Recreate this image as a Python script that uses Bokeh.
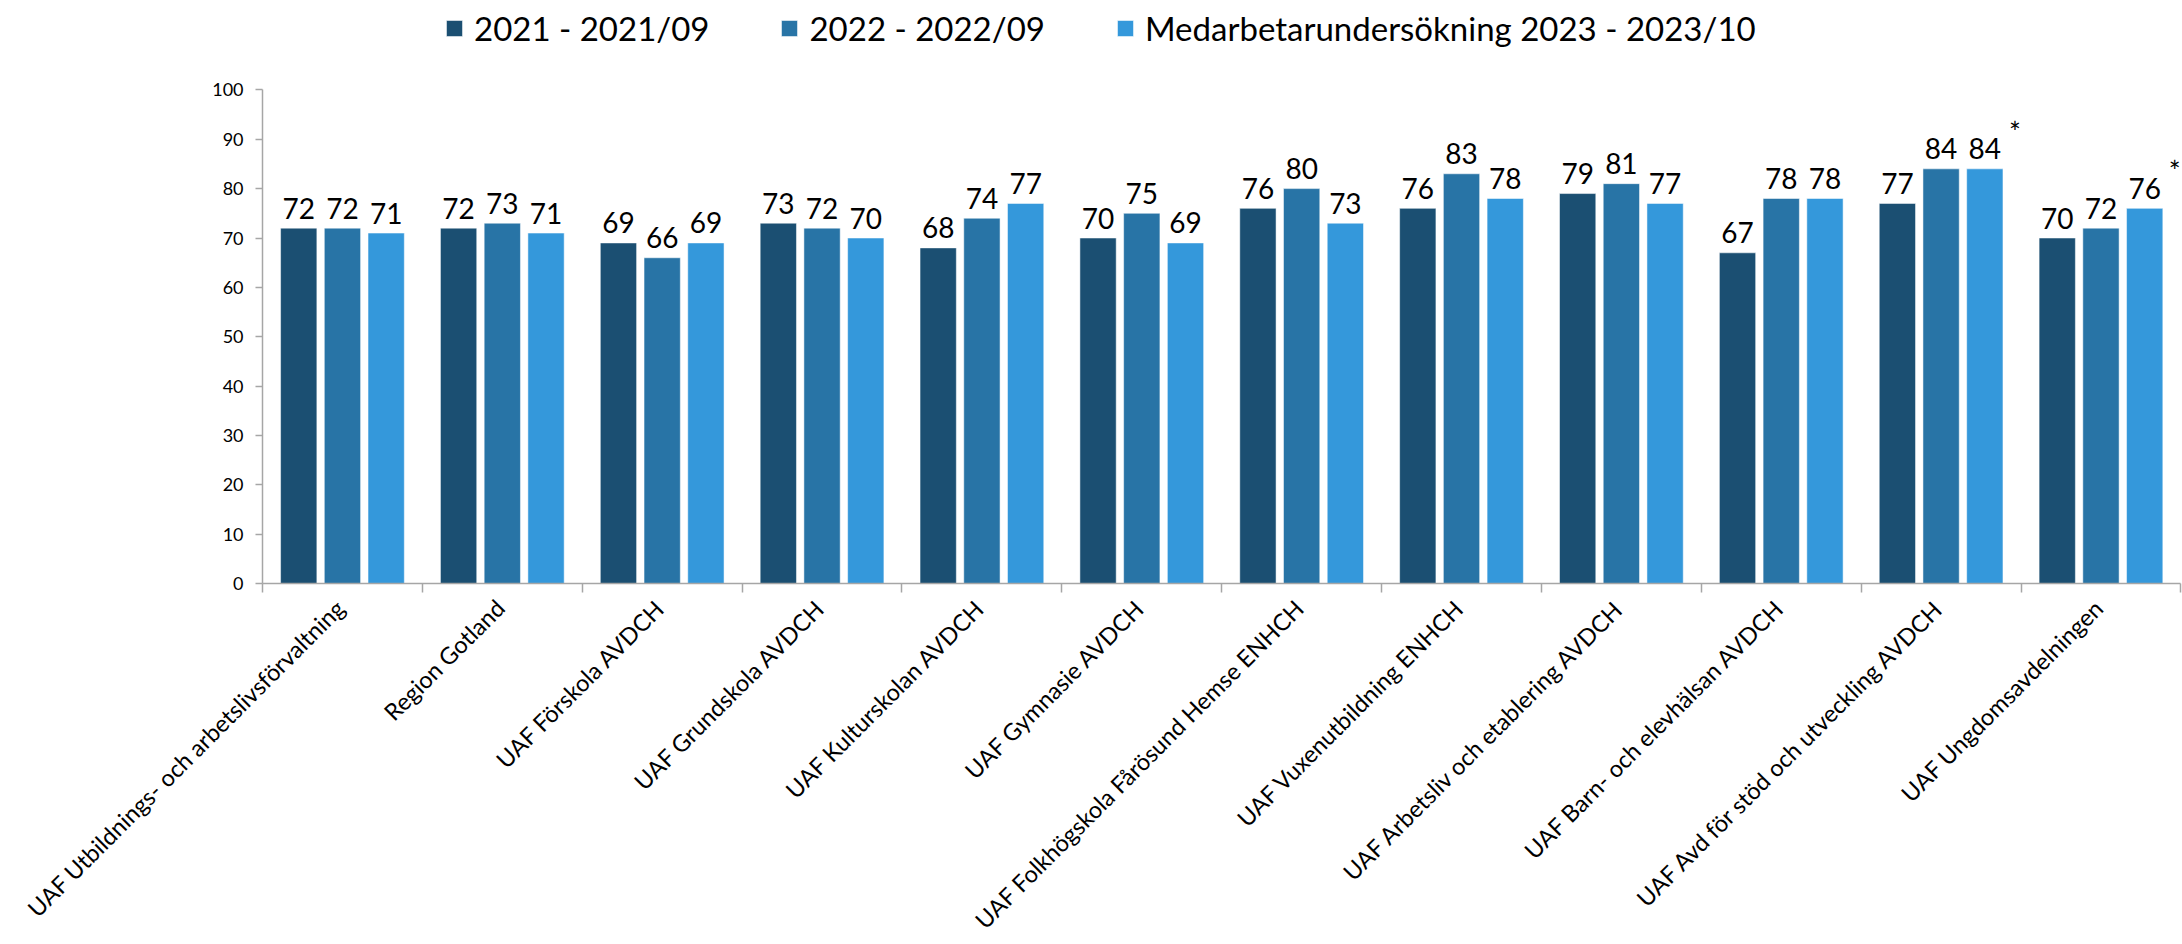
import math
from bokeh.plotting import figure
from bokeh.models import ColumnDataSource, FixedTicker, Legend, LegendItem, Range1d
from bokeh.transform import dodge
from bokeh.core.properties import value
from bokeh.embed import file_html
from bokeh.resources import INLINE

categories = [
    "UAF Utbildnings- och arbetslivsförvaltning",
    "Region Gotland",
    "UAF Förskola AVDCH",
    "UAF Grundskola AVDCH",
    "UAF Kulturskolan AVDCH",
    "UAF Gymnasie AVDCH",
    "UAF Folkhögskola Fårösund Hemse ENHCH",
    "UAF Vuxenutbildning ENHCH",
    "UAF Arbetsliv och etablering AVDCH",
    "UAF Barn- och elevhälsan AVDCH",
    "UAF Avd för stöd och utveckling AVDCH",
    "UAF Ungdomsavdelningen",
]
series_names = ["2021 - 2021/09", "2022 - 2022/09", "Medarbetarundersökning 2023 - 2023/10"]
values_2021 = [72, 72, 69, 73, 68, 70, 76, 76, 79, 67, 77, 70]
values_2022 = [72, 73, 66, 72, 74, 75, 80, 83, 81, 78, 84, 72]
values_2023 = [71, 71, 69, 70, 77, 69, 73, 78, 77, 78, 84, 76]
notes_2023 = ["", "", "", "", "", "", "", "", "", "", "*", "*"]
y_ticks = [0, 10, 20, 30, 40, 50, 60, 70, 80, 90, 100]
colors = ["#1B4F72", "#2874A6", "#3498DB"]

FONT = "Lato"
AXIS_COLOR = "#A6A6A6"

n = len(categories)
xc = [i + 0.5 for i in range(n)]
source = ColumnDataSource(dict(
    x=xc,
    cat=categories,
    zero=[0] * n,
    v0=values_2021, v1=values_2022, v2=values_2023,
    t0=[str(v) for v in values_2021],
    t1=[str(v) for v in values_2022],
    t2=[str(v) for v in values_2023],
    note=notes_2023,
))

# The frame covers the whole canvas; axes are drawn at fixed data locations.
# 159.86 px per category with the value axis at 262 px; 4.94 px per unit with 0 at 583 px.
p = figure(width=2182, height=944,
           x_range=Range1d(-1.639, 12.01), y_range=Range1d(-73.02, 118.08),
           output_backend="svg", toolbar_location=None,
           min_border_left=0, min_border_right=0,
           min_border_top=0, min_border_bottom=0)
p.outline_line_color = None
p.xgrid.visible = False
p.ygrid.visible = False

offsets = [-0.2735, 0.0, 0.2735]
renderers = []
for k in range(3):
    r = p.vbar(x=dodge("x", offsets[k], range=p.x_range), top="v%d" % k, bottom=0,
               width=0.227, source=source, fill_color=colors[k],
               line_color="white", line_alpha=0.5, line_width=1)
    renderers.append(r)
    p.text(x=dodge("x", offsets[k], range=p.x_range), y="v%d" % k, text="t%d" % k,
           source=source, text_align="center", text_baseline="alphabetic",
           y_offset=-20, text_font=value(FONT), text_font_size="28px", text_color="black")

p.text(x=dodge("x", offsets[2], range=p.x_range), y="v2", text="note", source=source,
       text_align="center", text_baseline="alphabetic", x_offset=30, y_offset=-37,
       text_font=value(FONT), text_font_size="28px", text_color="black")

# category labels, rotated 45 degrees, hanging below the axis
p.text(x="x", y="zero", text="cat", source=source,
       angle=math.pi / 4, text_align="right", text_baseline="top",
       x_offset=-12, y_offset=10,
       text_font=value(FONT), text_font_size="23.5px", text_color="black")

# y axis at x = 0
ya = p.yaxis[0]
ya.fixed_location = 0
ya.ticker = FixedTicker(ticks=y_ticks)
ya.bounds = (0, 100)
ya.axis_line_color = AXIS_COLOR
ya.axis_line_width = 1.5
ya.major_tick_line_color = AXIS_COLOR
ya.major_tick_line_width = 1.5
ya.major_tick_out = 7
ya.major_tick_in = 0
ya.minor_tick_line_color = None
ya.major_label_text_font = FONT
ya.major_label_text_font_size = "18px"
ya.major_label_text_color = "black"
ya.major_label_standoff = 12

# x axis at value 0 with ticks at category boundaries
xa = p.xaxis[0]
xa.fixed_location = 0
xa.bounds = (0, n)
xa.ticker = FixedTicker(ticks=[], minor_ticks=list(range(0, n + 1)))
xa.major_tick_line_color = None
xa.major_tick_out = 0
xa.major_tick_in = 0
xa.major_label_standoff = 0
xa.minor_tick_line_color = AXIS_COLOR
xa.minor_tick_line_width = 1.5
xa.minor_tick_out = 9
xa.minor_tick_in = 0
xa.axis_line_color = AXIS_COLOR
xa.axis_line_width = 1.5

legend = Legend(
    items=[LegendItem(label=series_names[k], renderers=[renderers[k]]) for k in range(3)],
    orientation="horizontal", location=(444, 896),
    padding=0, margin=0, spacing=70, label_standoff=10,
    glyph_width=20, glyph_height=20,
    label_text_font=FONT, label_text_font_size="33px", label_text_color="black",
    border_line_color=None, background_fill_alpha=0,
)
p.add_layout(legend, "center")

open("out.html", "w").write(file_html(p, INLINE))
